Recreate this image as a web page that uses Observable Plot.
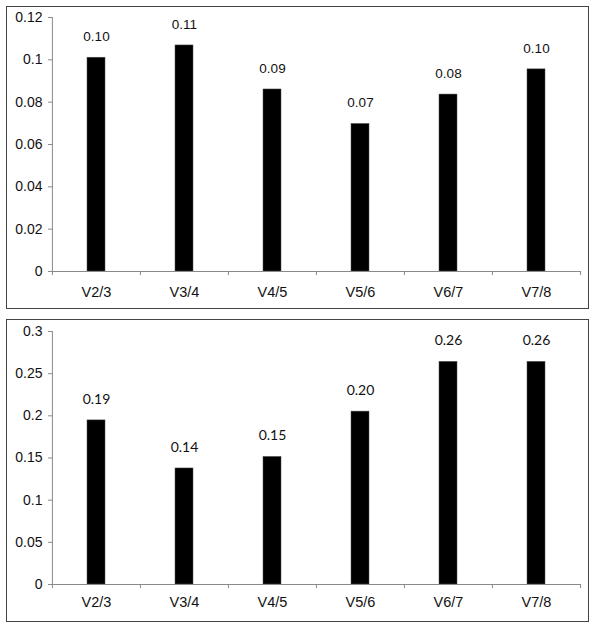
<!DOCTYPE html>
<html>
<head>
<meta charset="utf-8">
<script src="https://cdn.jsdelivr.net/npm/d3@7"></script>
<script src="https://cdn.jsdelivr.net/npm/@observablehq/plot@0.6"></script>
<style>
  body { margin: 0; background: #fff; width: 600px; height: 631px; position: relative; }
  .panel { position: absolute; left: 6px; width: 581px; height: 301px; border: 1px solid #444; background: #fff; }
  .panel svg { display: block; }
</style>
</head>
<body>
<div id="p1" class="panel" style="top:6px"></div>
<div id="p2" class="panel" style="top:319px"></div>
<script>
const categories = ["V2/3", "V3/4", "V4/5", "V5/6", "V6/7", "V7/8"];
const valuesTop = [0.101, 0.1068, 0.086, 0.0697, 0.0836, 0.0955];
const labelsTop = ["0.10", "0.11", "0.09", "0.07", "0.08", "0.10"];
const yTicksTop = [0, 0.02, 0.04, 0.06, 0.08, 0.1, 0.12];
const valuesBottom = [0.1946, 0.1376, 0.1513, 0.205, 0.264, 0.264];
const labelsBottom = ["0.19", "0.14", "0.15", "0.20", "0.26", "0.26"];
const yTicksBottom = [0, 0.05, 0.1, 0.15, 0.2, 0.25, 0.3];

function panel(values, labels, yTicks, opts) {
  const data = categories.map((c, i) => ({cat: c, v: values[i], label: labels[i]}));
  const W = 581, H = 301, ml = 45, mr = 7;
  const step = (W - ml - mr) / categories.length;
  const axisColor = "#8a8a8a";
  return Plot.plot({
    width: W, height: H,
    marginLeft: ml, marginRight: mr, marginTop: opts.mt, marginBottom: opts.mb,
    style: {fontFamily: "'Liberation Sans', Arial, sans-serif", fontSize: "14px", color: "#111", background: "#fff"},
    x: {domain: categories, paddingInner: 0.79, paddingOuter: 0.395, label: null},
    y: {domain: [yTicks[0], yTicks[yTicks.length - 1]], label: null},
    marks: [
      Plot.barY(data, {x: "cat", y: "v", fill: "#000", stroke: "#555", strokeWidth: 0.5}),
      Plot.text(data, {x: "cat", y: "v", text: "label", dy: -21, fontFamily: opts.labelFont, fontSize: opts.labelSize, fill: "#111"}),
      Plot.ruleY([0], {stroke: axisColor}),
      Plot.ruleX([categories[0]], {dx: -step / 2, stroke: axisColor}),
      Plot.ruleX(categories, {x: d => d, y1: 0, y2: 0, insetBottom: -4, dx: -step / 2, stroke: axisColor}),
      Plot.ruleX([categories[categories.length - 1]], {x: d => d, y1: 0, y2: 0, insetBottom: -4, dx: step / 2, stroke: axisColor}),
      Plot.axisY({ticks: yTicks, tickFormat: d => String(d), tickSize: 4, tickPadding: 6, stroke: axisColor, fill: "#111", fontSize: 14}),
      Plot.axisX({tickSize: 0, tickPadding: opts.xpad, fontSize: 14.5, fill: "#111"})
    ]
  });
}

document.getElementById("p1").append(panel(valuesTop, labelsTop, yTicksTop, {mt: 10, mb: 37, xpad: 15, labelSize: 13.5, labelFont: "'Liberation Sans', Arial, sans-serif"}));
document.getElementById("p2").append(panel(valuesBottom, labelsBottom, yTicksBottom, {mt: 11, mb: 37, xpad: 12, labelSize: 14, labelFont: "Lato, 'Open Sans', sans-serif"}));
</script>
</body>
</html>
